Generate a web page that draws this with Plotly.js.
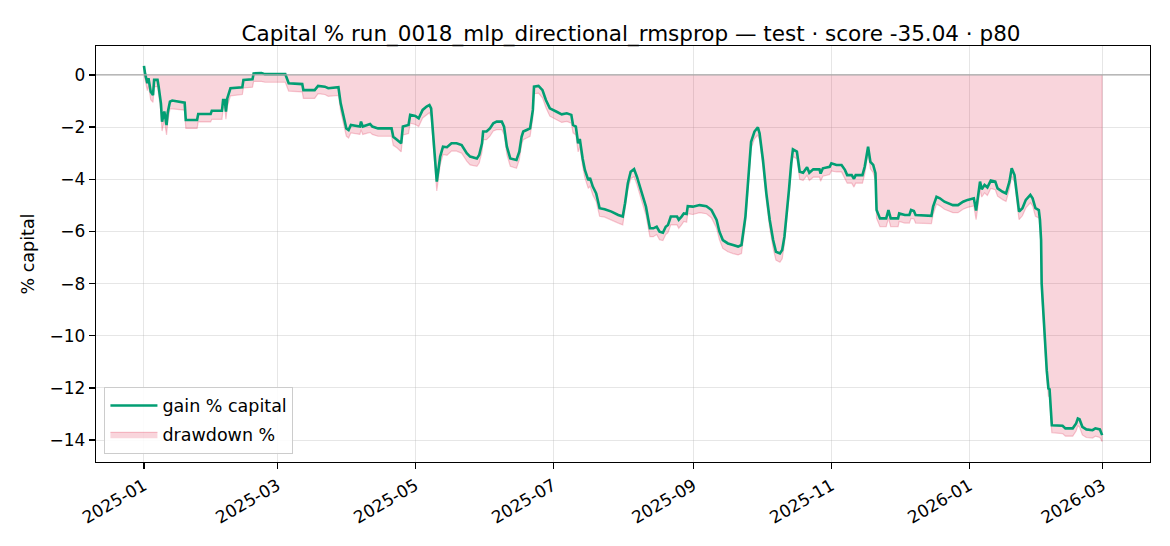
<!DOCTYPE html>
<html>
<head>
<meta charset="utf-8">
<script src="https://cdn.plot.ly/plotly-3.0.1.min.js"></script>
<style>
html,body{margin:0;padding:0;background:#fff;}
#chart{width:1170px;height:546px;}
</style>
</head>
<body>
<div id="chart"></div>
<script>
// ---- data ----
const dates = [
"2025-01-01 00:00","2025-01-01 12:00","2025-01-02 12:00","2025-01-03 00:00","2025-01-04 00:00","2025-01-05 00:00","2025-01-05 12:00","2025-01-07 00:00","2025-01-07 12:00","2025-01-08 12:00",
"2025-01-09 00:00","2025-01-10 00:00","2025-01-11 00:00","2025-01-11 12:00","2025-01-12 12:00","2025-01-13 12:00","2025-01-19 00:00","2025-01-19 12:00","2025-01-24 12:00","2025-01-25 00:00",
"2025-01-30 12:00","2025-01-31 00:00","2025-02-04 12:00","2025-02-05 00:00","2025-02-05 18:00","2025-02-06 06:00","2025-02-06 21:00","2025-02-08 06:00","2025-02-13 12:00","2025-02-14 00:00",
"2025-02-18 00:00","2025-02-18 12:00","2025-02-22 00:00","2025-02-23 12:00","2025-03-04 12:00","2025-03-06 00:00","2025-03-12 00:00","2025-03-12 12:00","2025-03-17 12:00","2025-03-19 00:00",
"2025-03-22 00:00","2025-03-23 12:00","2025-03-28 00:00","2025-03-29 00:00","2025-03-31 12:00","2025-04-01 12:00","2025-04-02 12:00","2025-04-06 12:00","2025-04-07 00:00","2025-04-07 18:00",
"2025-04-11 00:00","2025-04-12 00:00","2025-04-14 12:00","2025-04-20 12:00","2025-04-21 06:00","2025-04-23 00:00","2025-04-24 18:00","2025-04-25 12:00","2025-04-28 00:00","2025-04-28 18:00",
"2025-05-01 00:00","2025-05-02 12:00","2025-05-04 06:00","2025-05-06 00:00","2025-05-07 06:00","2025-05-08 00:00","2025-05-09 06:00","2025-05-10 12:00","2025-05-12 00:00","2025-05-13 06:00",
"2025-05-15 00:00","2025-05-17 00:00","2025-05-19 06:00","2025-05-21 12:00","2025-05-23 18:00","2025-05-25 06:00","2025-05-28 06:00","2025-05-29 06:00","2025-05-30 12:00","2025-05-31 00:00",
"2025-06-01 12:00","2025-06-03 00:00","2025-06-04 12:00","2025-06-06 00:00","2025-06-08 06:00","2025-06-09 06:00","2025-06-10 12:00","2025-06-12 00:00","2025-06-14 18:00","2025-06-16 00:00",
"2025-06-17 00:00","2025-06-17 18:00","2025-06-19 06:00","2025-06-20 18:00","2025-06-22 00:00","2025-06-22 12:00","2025-06-24 12:00","2025-06-26 06:00","2025-06-27 18:00","2025-06-29 12:00",
"2025-07-02 12:00","2025-07-04 18:00","2025-07-07 00:00","2025-07-09 00:00","2025-07-09 18:00","2025-07-11 00:00","2025-07-12 00:00","2025-07-12 18:00","2025-07-14 00:00","2025-07-15 00:00",
"2025-07-16 12:00","2025-07-17 06:00","2025-07-18 12:00","2025-07-20 00:00","2025-07-21 00:00","2025-07-21 12:00","2025-07-23 18:00","2025-07-26 18:00","2025-07-29 18:00","2025-07-31 18:00",
"2025-08-01 18:00","2025-08-03 00:00","2025-08-04 06:00","2025-08-05 18:00","2025-08-07 00:00","2025-08-09 00:00","2025-08-11 00:00","2025-08-12 18:00","2025-08-14 06:00","2025-08-15 18:00",
"2025-08-17 00:00","2025-08-18 12:00","2025-08-19 18:00","2025-08-20 18:00","2025-08-22 00:00","2025-08-24 18:00","2025-08-25 12:00","2025-08-26 18:00","2025-08-27 18:00","2025-08-29 00:00",
"2025-08-29 12:00","2025-08-31 18:00","2025-09-03 18:00","2025-09-06 18:00","2025-09-09 00:00","2025-09-11 06:00","2025-09-12 12:00","2025-09-14 00:00","2025-09-16 06:00","2025-09-18 12:00",
"2025-09-20 18:00","2025-09-22 06:00","2025-09-23 00:00","2025-09-24 00:00","2025-09-25 00:00","2025-09-26 00:00","2025-09-26 12:00","2025-09-28 00:00","2025-09-29 12:00","2025-09-30 06:00",
"2025-10-01 18:00","2025-10-03 06:00","2025-10-04 18:00","2025-10-06 06:00","2025-10-07 12:00","2025-10-09 06:00","2025-10-10 06:00","2025-10-11 06:00","2025-10-12 12:00","2025-10-13 06:00",
"2025-10-14 06:00","2025-10-15 00:00","2025-10-16 18:00","2025-10-18 00:00","2025-10-19 12:00","2025-10-21 06:00","2025-10-22 06:00","2025-10-24 00:00","2025-10-26 18:00","2025-10-27 06:00",
"2025-10-28 06:00","2025-10-31 06:00","2025-11-01 00:00","2025-11-03 06:00","2025-11-05 12:00","2025-11-07 00:00","2025-11-08 00:00","2025-11-10 00:00","2025-11-11 00:00","2025-11-11 18:00",
"2025-11-14 18:00","2025-11-15 18:00","2025-11-17 06:00","2025-11-18 06:00","2025-11-19 12:00","2025-11-20 12:00","2025-11-21 00:00","2025-11-22 12:00","2025-11-25 06:00","2025-11-26 06:00",
"2025-11-27 06:00","2025-11-30 12:00","2025-12-01 00:00","2025-12-03 12:00","2025-12-05 12:00","2025-12-06 06:00","2025-12-07 12:00","2025-12-08 06:00","2025-12-15 06:00","2025-12-16 00:00",
"2025-12-17 12:00","2025-12-19 00:00","2025-12-21 00:00","2025-12-24 18:00","2025-12-27 00:00","2025-12-29 06:00","2025-12-31 06:00","2026-01-03 00:00","2026-01-04 00:00","2026-01-04 18:00",
"2026-01-05 18:00","2026-01-06 12:00","2026-01-07 18:00","2026-01-09 00:00","2026-01-10 12:00","2026-01-12 12:00","2026-01-13 12:00","2026-01-15 18:00","2026-01-17 06:00","2026-01-18 18:00",
"2026-01-19 18:00","2026-01-21 00:00","2026-01-22 00:00","2026-01-23 00:00","2026-01-24 12:00","2026-01-26 00:00","2026-01-28 00:00","2026-01-29 00:00","2026-01-30 06:00","2026-01-31 18:00",
"2026-02-01 06:00","2026-02-01 18:00","2026-02-02 00:00","2026-02-03 06:00","2026-02-04 06:00","2026-02-05 00:00","2026-02-05 12:00","2026-02-06 12:00","2026-02-11 06:00","2026-02-12 12:00",
"2026-02-15 18:00","2026-02-17 06:00","2026-02-18 00:00","2026-02-18 18:00","2026-02-20 00:00","2026-02-21 18:00","2026-02-24 12:00","2026-02-25 18:00","2026-02-27 18:00","2026-02-28 18:00"
];

const gainPct = [
0.35,0.05,-0.32,-0.13,-0.64,-0.77,-0.19,-0.19,-0.45,-1.09,
-1.79,-1.40,-1.92,-1.45,-1.02,-0.98,-1.06,-1.73,-1.73,-1.50,
-1.50,-1.37,-1.37,-0.96,-0.96,-1.41,-0.89,-0.51,-0.47,-0.19,
-0.17,0.06,0.07,0.03,0.03,-0.32,-0.35,-0.58,-0.58,-0.42,
-0.45,-0.51,-0.47,-1.09,-2.05,-2.11,-1.92,-1.98,-1.79,-1.98,
-1.88,-1.98,-2.05,-2.05,-2.37,-2.49,-2.62,-1.98,-1.92,-1.53,
-1.57,-1.66,-1.34,-1.21,-1.15,-1.28,-2.75,-4.09,-3.13,-2.75,
-2.77,-2.62,-2.62,-2.69,-3.00,-3.13,-3.20,-3.07,-2.62,-2.17,
-2.17,-2.05,-1.85,-1.79,-1.79,-1.98,-2.75,-3.20,-3.26,-2.94,
-2.37,-2.17,-2.11,-2.05,-1.34,-0.45,-0.42,-0.58,-0.96,-1.28,
-1.41,-1.51,-1.47,-1.53,-1.92,-1.98,-2.62,-2.45,-3.20,-3.64,
-4.03,-3.95,-4.28,-4.54,-4.92,-5.11,-5.15,-5.24,-5.37,-5.43,
-4.92,-4.15,-3.71,-3.61,-3.90,-4.48,-5.05,-5.88,-5.88,-5.82,
-6.01,-6.05,-5.82,-5.75,-5.43,-5.43,-5.55,-5.43,-5.31,-5.33,
-5.03,-5.05,-4.99,-5.03,-5.18,-5.56,-6.01,-6.33,-6.46,-6.52,
-6.58,-6.52,-6.07,-5.43,-4.28,-3.13,-2.56,-2.17,-2.01,-2.24,
-3.26,-4.54,-5.56,-6.33,-6.78,-6.84,-6.71,-6.20,-5.18,-4.41,
-3.39,-2.85,-2.94,-3.71,-3.75,-3.54,-3.75,-3.62,-3.62,-3.78,
-3.58,-3.52,-3.39,-3.45,-3.45,-3.64,-3.84,-3.84,-3.98,-3.84,
-3.84,-3.52,-2.75,-3.33,-3.45,-3.77,-5.18,-5.50,-5.50,-5.18,
-5.50,-5.50,-5.31,-5.37,-5.37,-5.18,-5.22,-5.37,-5.40,-5.05,
-4.67,-4.73,-4.86,-4.99,-4.99,-4.86,-4.79,-4.73,-5.20,-4.79,
-4.09,-4.38,-4.22,-4.31,-4.05,-4.09,-4.35,-4.48,-4.54,-4.09,
-3.58,-3.84,-4.54,-5.24,-5.11,-4.79,-4.60,-4.73,-5.11,-5.18,
-5.56,-6.33,-7.99,-9.91,-11.32,-12.02,-12.05,-13.43,-13.45,-13.55,
-13.55,-13.36,-13.17,-13.20,-13.49,-13.59,-13.62,-13.55,-13.59,-13.81
];

const drawdownPct = [
0.00,-0.25,-0.60,-0.42,-0.95,-1.05,-0.45,-0.45,-0.75,-1.40,
-2.15,-1.75,-2.30,-1.80,-1.30,-1.30,-1.35,-2.05,-2.05,-1.80,
-1.80,-1.70,-1.70,-1.28,-1.25,-1.70,-1.20,-0.80,-0.75,-0.50,
-0.47,-0.25,-0.25,-0.28,-0.28,-0.62,-0.65,-0.90,-0.90,-0.72,
-0.75,-0.82,-0.78,-1.40,-2.35,-2.42,-2.22,-2.28,-2.10,-2.28,
-2.20,-2.28,-2.35,-2.35,-2.70,-2.80,-2.95,-2.30,-2.25,-1.85,
-1.90,-1.98,-1.65,-1.52,-1.45,-1.60,-3.10,-4.45,-3.45,-3.05,
-3.08,-2.92,-2.92,-3.00,-3.30,-3.45,-3.50,-3.38,-2.95,-2.48,
-2.48,-2.35,-2.15,-2.10,-2.10,-2.28,-3.05,-3.50,-3.58,-3.25,
-2.68,-2.48,-2.42,-2.35,-1.65,-0.72,-0.70,-0.88,-1.25,-1.58,
-1.72,-1.82,-1.78,-1.85,-2.22,-2.30,-2.95,-2.75,-3.50,-3.95,
-4.35,-4.25,-4.60,-4.85,-5.22,-5.42,-5.45,-5.55,-5.68,-5.75,
-5.20,-4.42,-3.98,-3.90,-4.20,-4.80,-5.38,-6.20,-6.20,-6.12,
-6.32,-6.35,-6.12,-6.05,-5.75,-5.75,-5.88,-5.75,-5.62,-5.65,
-5.32,-5.35,-5.28,-5.32,-5.48,-5.88,-6.32,-6.65,-6.78,-6.85,
-6.90,-6.85,-6.38,-5.72,-4.55,-3.40,-2.82,-2.45,-2.30,-2.52,
-3.55,-4.85,-5.88,-6.65,-7.10,-7.18,-7.05,-6.50,-5.48,-4.70,
-3.68,-3.12,-3.22,-4.00,-4.05,-3.85,-4.05,-3.92,-3.92,-4.08,
-3.88,-3.82,-3.68,-3.72,-3.72,-3.95,-4.15,-4.15,-4.30,-4.15,
-4.15,-3.80,-3.00,-3.60,-3.75,-4.05,-5.50,-5.82,-5.82,-5.50,
-5.82,-5.82,-5.62,-5.68,-5.68,-5.50,-5.52,-5.68,-5.70,-5.35,
-4.95,-5.02,-5.15,-5.28,-5.28,-5.15,-5.08,-5.02,-5.55,-5.10,
-4.40,-4.68,-4.52,-4.62,-4.35,-4.40,-4.65,-4.78,-4.85,-4.38,
-3.88,-4.12,-4.85,-5.55,-5.40,-5.10,-4.90,-5.02,-5.42,-5.48,
-5.88,-6.65,-8.30,-10.20,-11.62,-12.32,-12.35,-13.72,-13.75,-13.85,
-13.85,-13.65,-13.45,-13.50,-13.80,-13.90,-13.92,-13.85,-13.90,-14.05
];

const titleText = "Capital % run_0018_mlp_directional_rmsprop — test · score -35.04 · p80";
const xTickVals = ["2025-01-01","2025-03-01","2025-05-01","2025-07-01","2025-09-01","2025-11-01","2026-01-01","2026-03-01"];
const xTickText = ["2025-01","2025-03","2025-05","2025-07","2025-09","2025-11","2026-01","2026-03"];
const yTickVals = [0,-2,-4,-6,-8,-10,-12,-14];

// ---- styling ----
const GREEN = "#029e73";
const PINK_FILL = "rgba(220,20,60,0.18)";
const PINK_EDGE = "rgba(220,20,60,0.22)";
const FONT = "DejaVu Sans, Liberation Sans, sans-serif";
const TICK_SIZE = 17;

const traces = [
  {
    x: dates, y: drawdownPct, type: "scatter", mode: "lines",
    name: "drawdown %", fill: "tozeroy", fillcolor: PINK_FILL,
    line: {color: PINK_EDGE, width: 1.2, shape: "linear"},
    legendrank: 2, legendgroup: "b", hoverinfo: "skip"
  },
  {
    x: dates, y: gainPct, type: "scatter", mode: "lines",
    name: "gain % capital",
    line: {color: GREEN, width: 2.6},
    legendrank: 1, legendgroup: "a"
  }
];

const lastIdx = dates.length - 1;

const axisCommon = {
  showline: true, mirror: true, linecolor: "#000", linewidth: 1.3,
  ticks: "outside", ticklen: 6, tickwidth: 1.3, tickcolor: "#000",
  showgrid: true, gridcolor: "rgba(176,176,176,0.32)", gridwidth: 1,
  zeroline: false, tickfont: {family: FONT, size: TICK_SIZE, color: "#000"}
};

const layout = {
  width: 1170, height: 546,
  margin: {l: 96, r: 20, t: 46, b: 84},
  paper_bgcolor: "#fff", plot_bgcolor: "#fff",
  font: {family: FONT, color: "#000"},
  title: {
    text: titleText, font: {family: FONT, size: 21.5, color: "#000"},
    x: 0.5 + 8/1054, xref: "paper", xanchor: "center",
    y: 1 - 33/546, yref: "container", yanchor: "middle"
  },
  xaxis: Object.assign({}, axisCommon, {
    type: "date",
    range: ["2024-12-10 19:00", "2026-03-21 22:00"],
    tickvals: xTickVals, ticktext: xTickText, tickangle: -30
  }),
  yaxis: Object.assign({}, axisCommon, {
    range: [-14.84, 1.11],
    tickvals: yTickVals,
    title: {text: "% capital", font: {family: FONT, size: 17.5, color: "#000"}, standoff: 10}
  }),
  showlegend: true,
  legend: {
    x: 0.008, y: 0.02, xanchor: "left", yanchor: "bottom",
    bgcolor: "rgba(255,255,255,0.85)", bordercolor: "#cccccc", borderwidth: 1,
    font: {family: FONT, size: 17.5, color: "#000"},
    traceorder: "grouped", tracegroupgap: 3, itemwidth: 47
  },
  shapes: [
    {type: "line", xref: "paper", x0: 0, x1: 1, yref: "y", y0: 0, y1: 0,
     line: {color: "#a8a8a8", width: 1.3}, layer: "above"},
    {type: "line", xref: "x", x0: dates[lastIdx], x1: dates[lastIdx], yref: "y", y0: 0, y1: drawdownPct[lastIdx],
     line: {color: PINK_EDGE, width: 1.2}, layer: "below"}
  ]
};

Plotly.newPlot("chart", traces, layout, {displayModeBar: false, staticPlot: true});
</script>
</body>
</html>
